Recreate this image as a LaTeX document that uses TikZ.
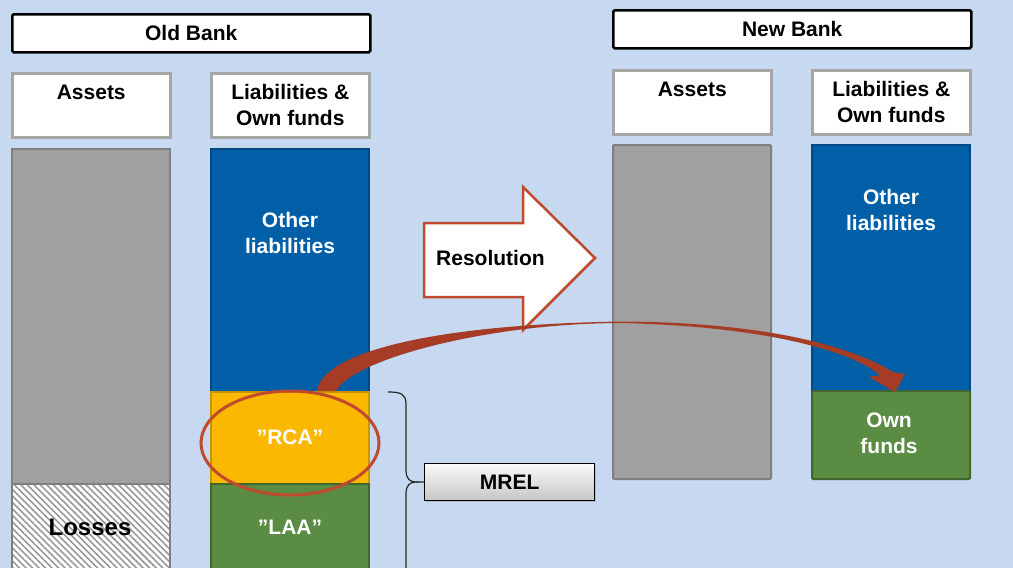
\documentclass[tikz,border=0pt]{standalone}
\usepackage{fontspec}
\setmainfont{Liberation Sans}
\usetikzlibrary{patterns.meta,shadows}
\definecolor{bg}{HTML}{C6D9F0}
\definecolor{colgray}{HTML}{A0A0A0}
\definecolor{colgrayb}{HTML}{7F7F7F}
\definecolor{hdrb}{HTML}{A6A6A6}
\definecolor{colblue}{HTML}{005FA7}
\definecolor{colblueb}{HTML}{004A86}
\definecolor{colyel}{HTML}{FAB900}
\definecolor{colyelb}{HTML}{C99400}
\definecolor{colgreen}{HTML}{5B8C44}
\definecolor{colgreenb}{HTML}{41662F}
\definecolor{redline}{HTML}{BF4A2D}
\definecolor{redfill}{HTML}{A63C26}
\begin{document}
\begin{tikzpicture}[x=1pt,y=-1pt,
  txt/.style={font=\fontsize{21}{26}\selectfont\bfseries, align=center, inner sep=0pt},
  bankbox/.style={draw=black, line width=2.5pt, fill=white, rounded corners=1.5pt, anchor=north west, minimum width=358pt, minimum height=38pt, inner sep=0pt, txt},
  hdrbox/.style={draw=hdrb, line width=2.5pt, fill=white, anchor=north west, minimum width=158pt, minimum height=64pt, inner sep=0pt, txt},
  colbox/.style={line width=2pt, anchor=north west, minimum width=158pt, inner sep=0pt},
  wtxt/.style={txt, text=white},
]
\clip (0,0) rectangle (1013,568);
\fill[bg] (0,0) rectangle (1013,568);

% ---- Old bank ----
\node[bankbox] (oldbank) at (11,13) {Old Bank};
\node[hdrbox] (oldassetsh) at (11,72) {Assets\\\mbox{}};
\node[hdrbox] (oldliabh) at (210,72) {Liabilities \&\\Own funds};

\node[colbox, draw=colgrayb, fill=colgray, minimum height=335pt] (oldassets) at (11,148) {};
\node[colbox, draw=colgrayb, preaction={fill=white}, pattern={Lines[angle=-45,distance=4.6pt,line width=1.6pt]}, pattern color=gray!80, minimum height=100pt] (losses) at (11,483) {};
\node[txt, font=\fontsize{24}{28}\selectfont\bfseries] (lossestxt) at (90,527) {Losses};

\node[colbox, draw=colblueb, fill=colblue, minimum height=243pt] (oldother) at (210,148) {};
\node[wtxt] (oldothertxt) at (290,233) {Other\\liabilities};
\node[colbox, draw=colyelb, fill=colyel, minimum height=92pt] (rca) at (210,391) {};
\node[wtxt] (rcatxt) at (290,437) {”RCA”};
\node[colbox, draw=colgreenb, fill=colgreen, minimum height=100pt] (laa) at (210,483) {};
\node[wtxt] (laatxt) at (290,527) {”LAA”};

% ---- New bank ----
\node[bankbox] (newbank) at (612,9) {New Bank};
\node[hdrbox] (newassetsh) at (612,69) {Assets\\\mbox{}};
\node[hdrbox] (newliabh) at (811,69) {Liabilities \&\\Own funds};
\node[colbox, draw=colgrayb, fill=colgray, minimum height=334pt, rounded corners=1pt] (newassets) at (612,144) {};
\node[colbox, draw=colblueb, fill=colblue, minimum height=246pt] (newother) at (811,144) {};
\node[wtxt] (newothertxt) at (891,210) {Other\\liabilities};
\node[colbox, draw=colgreenb, fill=colgreen, minimum height=88pt, rounded corners=1pt] (ownfunds) at (811,390) {};
\node[wtxt] (ownfundstxt) at (889,433) {Own\\funds};

% ---- Resolution arrow ----
\draw[draw=redline, line width=2.5pt, fill=white, line join=miter]
  (424,223) -- (523,223) -- (523,187) -- (595,258) -- (523,330) -- (523,297) -- (424,297) -- cycle;
\node[txt, anchor=west] (restxt) at (436,258) {Resolution};

% ---- RCA ellipse ----
\draw[redline, line width=3pt] (290,443) ellipse [x radius=89, y radius=52];

% ---- MREL brace and box ----
\node[draw=black, line width=1.2pt, top color=white!96!gray, bottom color=gray!45,
  drop shadow={shadow xshift=1.5pt, shadow yshift=-1.5pt, opacity=0.35},
  anchor=north west, minimum width=170pt, minimum height=37pt, inner sep=0pt, txt] (mrel) at (424,463) {MREL};
\coordinate (bracetip) at (416,482);
\draw[black!85, line width=1.2pt]
  (388,392) .. controls (401,392) and (406,394) .. (406,404) -- (406,470)
  .. controls (406,479) and (410,482) .. (bracetip)
  .. controls (410,482) and (406,485) .. (406,494) -- (406,580);
\draw[black!85, line width=1.2pt] (bracetip) -- (mrel.west);

% ---- curved transfer arrow (tapered) ----
\fill[redfill]
  (317,391) .. controls (322,355) and (420,325) .. (620,321.5)
  .. controls (760,322) and (850,345) .. (893,372)
  -- (905,374) -- (895,392) -- (869,377) -- (880,375)
  .. controls (850,350) and (760,326) .. (620,323)
  .. controls (485,323.5) and (352,360) .. (336,391) -- cycle;
\end{tikzpicture}
\end{document}
